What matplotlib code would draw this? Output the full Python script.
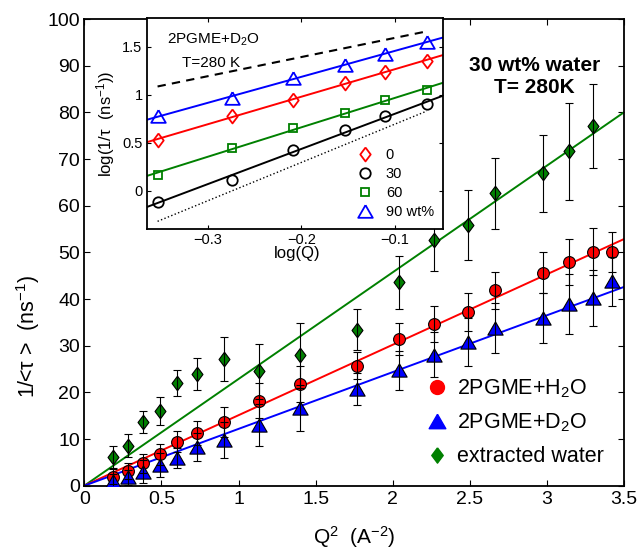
import numpy as np
import matplotlib
matplotlib.use("Agg")
import matplotlib.pyplot as plt
from matplotlib.lines import Line2D
from matplotlib.ticker import FuncFormatter, MultipleLocator

plt.rcParams['font.family'] = ['Liberation Sans', 'DejaVu Sans']
plt.rcParams['mathtext.fontset'] = 'custom'
plt.rcParams['mathtext.rm'] = 'Liberation Sans'
plt.rcParams['mathtext.it'] = 'Liberation Sans:italic'
plt.rcParams['mathtext.bf'] = 'Liberation Sans:bold'
plt.rcParams['axes.unicode_minus'] = True

# ---------------- main data ----------------
q2 = [0.188, 0.281, 0.378, 0.49, 0.602, 0.734, 0.907, 1.131, 1.397, 1.771,
      2.038, 2.271, 2.487, 2.666, 2.977, 3.146, 3.297, 3.420]
rate_h2o = [1.93, 3.15, 4.81, 6.74, 9.44, 11.24, 13.73, 18.24, 21.8, 25.7,
            31.48, 34.64, 37.2, 41.85, 45.6, 47.9, 50.15, 50.15]
err_h2o = [1.6, 1.8, 2.0, 2.2, 2.2, 2.6, 3.2, 3.7, 3.8, 2.9,
           3.4, 3.9, 4.0, 3.9, 4.4, 5.0, 5.0, 4.3]
rate_d2o = [1.07, 1.8, 3.0, 4.44, 5.88, 8.37, 9.8, 13.0, 16.6, 20.7,
            24.7, 28.05, 30.8, 33.8, 35.9, 38.9, 40.2, 43.8]
err_d2o = [1.5, 1.6, 2.5, 2.6, 2.1, 3.0, 3.9, 4.6, 4.9, 3.4,
           4.1, 4.8, 5.2, 5.4, 5.4, 6.5, 6.0, 5.3]
q2_water = [0.188, 0.281, 0.378, 0.49, 0.602, 0.734, 0.907, 1.131, 1.397, 1.771,
            2.038, 2.271, 2.487, 2.666, 2.977, 3.146, 3.297]
rate_water = [6.2, 8.6, 13.6, 16.0, 22.0, 24.0, 27.1, 24.5, 27.9, 33.4,
              43.6, 52.6, 55.8, 62.7, 66.9, 71.7, 77.0]
err_water = [2.4, 2.4, 2.4, 2.9, 2.7, 3.4, 4.7, 5.9, 7.0, 4.4,
             5.7, 6.65, 7.5, 7.6, 8.3, 10.4, 9.0]
# slopes of the fitted lines through the origin (ns^-1 A^2)
slope_h2o = 15.1
slope_d2o = 12.17
slope_water = 22.86

legend_labels = ['2PGME+H$_2$O', '2PGME+D$_2$O', 'extracted water']

# ---------------- inset data ----------------
logq = [-0.3534, -0.2744, -0.2086, -0.1535, -0.1105, -0.066]
log_rate_0 = [0.525, 0.78, 0.95, 1.125, 1.24, 1.35]
log_rate_30 = [-0.116, 0.116, 0.421, 0.636, 0.774, 0.899]
log_rate_60 = [0.161, 0.449, 0.657, 0.809, 0.941, 1.045]
log_rate_90 = [0.774, 0.969, 1.177, 1.315, 1.426, 1.547]
inset_labels = ['0', '30', '60', '90 wt%']
# reference power laws: log(1/tau) = a + n (log(Q) - log(Q)_first)
ref_q2 = (1.086, 2.0)     # dashed, Q^2
ref_q4 = (-0.32, 4.0)     # dotted, Q^4

RED = (1, 0, 0)
BLUE = (0, 0, 1)
GREEN = (0, 0.5, 0)

diamond = [(0, 1), (0.75, 0), (0, -1), (-0.75, 0), (0, 1)]
tri = [(0, 0.866), (1, -0.866), (-1, -0.866), (0, 0.866)]

fig = plt.figure(figsize=(6.41, 5.52), dpi=100)
W, H = 641.0, 552.0
ax = fig.add_axes([84.3 / W, 1 - 485.7 / H, (624 - 84.3) / W, (485.7 - 19) / H])

xmax = 3.5
xl = np.array([0, xmax])
ax.plot(xl, slope_water * xl, color=GREEN, lw=1.4, zorder=2)
ax.plot(xl, slope_h2o * xl, color=RED, lw=1.4, zorder=2)
ax.plot(xl, slope_d2o * xl, color=BLUE, lw=1.4, zorder=2)

ax.plot(q2_water, rate_water, ls='none', marker=diamond, ms=10.5, mfc=GREEN,
        mec='k', mew=0.8, zorder=3)
ax.plot(q2, rate_h2o, ls='none', marker='o', ms=8.5, mfc=RED, mec='k', mew=0.8, zorder=3)
ax.plot(q2, rate_d2o, ls='none', marker=tri, ms=11, mfc=BLUE, mec='k', mew=0.8, zorder=3)

ekw = dict(fmt='none', ecolor='k', elinewidth=0.8, capsize=3, capthick=0.8, zorder=4)
ax.errorbar(q2_water, rate_water, yerr=err_water, **ekw)
ax.errorbar(q2, rate_h2o, yerr=err_h2o, **ekw)
ax.errorbar(q2, rate_d2o, yerr=err_d2o, **ekw)

ax.set_xlim(0, xmax)
ax.set_ylim(0, 100)
ax.xaxis.set_major_locator(MultipleLocator(0.5))
ax.yaxis.set_major_locator(MultipleLocator(10))
fmt = FuncFormatter(lambda v, p: ('%g' % v).replace('-', '\u2212'))
ax.xaxis.set_major_formatter(fmt)
ax.yaxis.set_major_formatter(fmt)
ax.tick_params(direction='in', top=True, right=True, length=4, width=0.8,
               labelsize=14, pad=4)
ax.tick_params(axis='y', pad=3)
for s in ax.spines.values():
    s.set_linewidth(1.3)

ax.set_xlabel('Q$^2$  (A$^{-2}$)', fontsize=15)
ax.xaxis.set_label_coords(0.5, -0.11)
ax.xaxis.label.set_va('center')
ax.set_ylabel('1/<\u03c4 >  (ns$^{-1}$)', fontsize=15.5)
ax.yaxis.set_label_coords(-0.104, 0.32)
ax.yaxis.label.set_va('center')

ax.text(2.92, 87.6, '30 wt% water\nT= 280K', fontsize=15, fontweight='bold',
        ha='center', va='center', linespacing=1.2)

handles = [
    Line2D([], [], ls='none', marker='o', ms=10, mfc=RED, mec=RED),
    Line2D([], [], ls='none', marker=tri, ms=12, mfc=BLUE, mec=BLUE),
    Line2D([], [], ls='none', marker=diamond, ms=11, mfc=GREEN, mec=GREEN),
]
ax.legend(handles, legend_labels, loc='upper left', bbox_to_anchor=(0.636, 0.232),
          frameon=False, fontsize=15.5, handlelength=0.9, handletextpad=0.45,
          borderpad=0, borderaxespad=0, labelspacing=0.55)

# ---------------- inset ----------------
axi = fig.add_axes([146.7 / W, 1 - 229 / H, (442.7 - 146.7) / W, (229 - 18) / H])
axi.set_zorder(10)
axi.set_facecolor('white')
xlo, xhi = -0.365, -0.049
xi = np.array([xlo, xhi])
series = [
    (log_rate_0, RED, diamond, 10),
    (log_rate_30, 'k', 'o', 7.5),
    (log_rate_60, GREEN, 's', 6),
    (log_rate_90, BLUE, tri, 10.5),
]
for yv, c, m, ms in series:
    p = np.polyfit(logq, yv, 1)
    axi.plot(xi, np.polyval(p, xi), color=c, lw=1.4, zorder=2)
ihandles = []
for (yv, c, m, ms), lab in zip(series, inset_labels):
    h, = axi.plot(logq, yv, ls='none', marker=m, ms=ms, mfc='none', mec=c, mew=1.3,
                  zorder=3, label=lab)
    ihandles.append(h)
xr = np.array([logq[0], logq[-1]])
axi.plot(xr, ref_q2[0] + ref_q2[1] * (xr - logq[0]), 'k--', lw=1.5, dashes=(4, 3))
axi.plot(xr, ref_q4[0] + ref_q4[1] * (xr - logq[0]), 'k:', lw=1.0)

axi.set_xlim(xlo, xhi)
axi.set_ylim(-0.4, 1.8)
axi.xaxis.set_major_locator(MultipleLocator(0.1))
axi.yaxis.set_major_locator(MultipleLocator(0.5))
axi.xaxis.set_major_formatter(fmt)
axi.yaxis.set_major_formatter(fmt)
axi.tick_params(direction='in', top=True, right=True, length=3, width=0.8,
                labelsize=10.5, pad=3)
for s in axi.spines.values():
    s.set_linewidth(1.3)
axi.set_xlabel('log(Q)', fontsize=12)
axi.xaxis.set_label_coords(0.507, -0.118)
axi.xaxis.label.set_va('center')
axi.set_ylabel('log(1/\u03c4  (ns$^{-1}$))', fontsize=12)
axi.yaxis.set_label_coords(-0.14, 0.5)
axi.yaxis.label.set_va('center')

axi.text(0.0676, 0.896, '2PGME+D$_2$O', transform=axi.transAxes, fontsize=11,
         ha='left', va='center')
axi.text(0.118, 0.785, 'T=280 K', transform=axi.transAxes, fontsize=11,
         ha='left', va='center')
axi.legend(ihandles, inset_labels, loc='upper left', bbox_to_anchor=(0.714, 0.384),
           frameon=False, fontsize=10.5, handlelength=1.0, handletextpad=0.9,
           borderpad=0, borderaxespad=0, labelspacing=0.35)

fig.savefig('out.png', dpi=100)
